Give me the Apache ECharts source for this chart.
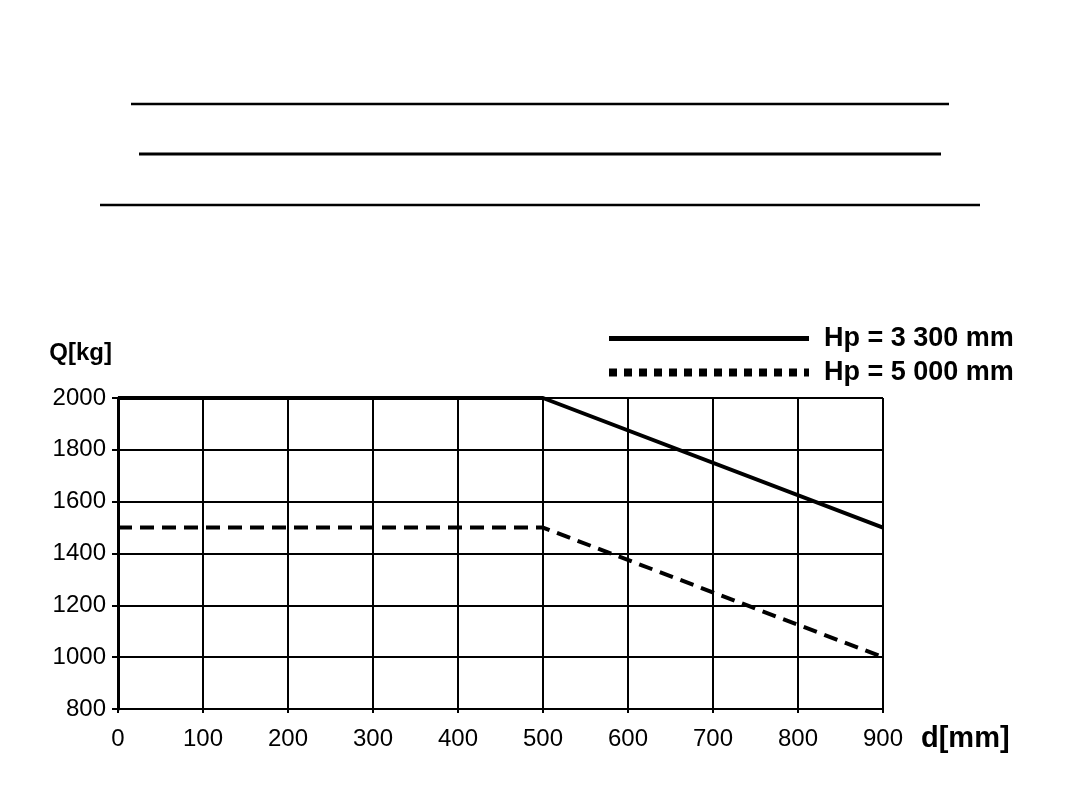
<!DOCTYPE html>
<html>
<head>
<meta charset="utf-8">
<script src="https://cdn.jsdelivr.net/npm/echarts@6/dist/echarts.min.js"></script>
<style>html,body{margin:0;padding:0;background:#fff}#c{width:1080px;height:810px}</style>
</head>
<body>
<div id="c"></div>
<script>
var dValues = [0, 500, 900];
var q3300 = [2000, 2000, 1500];
var q5000 = [1500, 1500, 1000];
var seriesNames = ['Hp = 3 300 mm', 'Hp = 5 000 mm'];
var xAxisName = 'd[mm]';
var yAxisName = 'Q[kg]';

function pairs(xs, ys) { return xs.map(function (x, i) { return [x, ys[i]]; }); }

var font = 'Liberation Sans, Arial, sans-serif';
var chart = echarts.init(document.getElementById('c'));
chart.setOption({
  animation: false,
  backgroundColor: '#fff',
  grid: { left: 118, right: 197, top: 398, bottom: 101, containLabel: false },
  legend: {
    orient: 'vertical',
    left: 600,
    top: 320,
    itemWidth: 200,
    itemHeight: 14,
    itemGap: 7,
    textStyle: { fontFamily: font, fontSize: 27, fontWeight: 'bold', color: '#000', padding: [0, 0, 0, 10] },
    data: [
      { name: seriesNames[0], itemStyle: { opacity: 0 }, lineStyle: { type: 'solid', width: 5 } },
      { name: seriesNames[1], itemStyle: { opacity: 0 }, lineStyle: { type: [8, 7], width: 8 } }
    ]
  },
  xAxis: {
    type: 'value', min: 0, max: 900, interval: 100,
    name: xAxisName, nameLocation: 'end', nameGap: 38,
    nameTextStyle: { fontFamily: font, fontSize: 29, fontWeight: 'bold', color: '#000', verticalAlign: 'top', padding: [15, 0, 0, 0] },
    axisLine: { show: true, lineStyle: { color: '#000', width: 2 } },
    axisTick: { show: true, inside: false, length: 4, lineStyle: { color: '#000', width: 2 } },
    axisLabel: { fontFamily: font, fontSize: 24, color: '#000', margin: 18 },
    splitLine: { show: true, lineStyle: { color: '#000', width: 2 } }
  },
  yAxis: {
    type: 'value', min: 800, max: 2000, interval: 200,
    name: yAxisName, nameLocation: 'end', nameGap: 33,
    nameTextStyle: { fontFamily: font, fontSize: 24, fontWeight: 'bold', color: '#000', align: 'right', padding: [0, 6, 0, 0] },
    axisLine: { show: true, lineStyle: { color: '#000', width: 3 } },
    axisTick: { show: true, inside: false, length: 6, lineStyle: { color: '#000', width: 2 } },
    axisLabel: { fontFamily: font, fontSize: 24, color: '#000', margin: 12, formatter: function (v) { return String(v); } },
    splitLine: { show: true, lineStyle: { color: '#000', width: 2 } }
  },
  series: [
    {
      name: seriesNames[0], type: 'line', symbol: 'none',
      data: pairs(dValues, q3300),
      lineStyle: { color: '#000', width: 4, type: 'solid' },
      itemStyle: { color: '#000' }
    },
    {
      name: seriesNames[1], type: 'line', symbol: 'none',
      data: pairs(dValues, q5000),
      lineStyle: { color: '#000', width: 4, type: [14, 8] },
      itemStyle: { color: '#000' }
    }
  ],
  graphic: [
    { type: 'line', shape: { x1: 131, y1: 104, x2: 949, y2: 104 }, style: { stroke: '#000', lineWidth: 2.5 } },
    { type: 'line', shape: { x1: 139, y1: 154, x2: 941, y2: 154 }, style: { stroke: '#000', lineWidth: 3 } },
    { type: 'line', shape: { x1: 100, y1: 205, x2: 980, y2: 205 }, style: { stroke: '#000', lineWidth: 2.5 } }
  ]
});
</script>
</body>
</html>
